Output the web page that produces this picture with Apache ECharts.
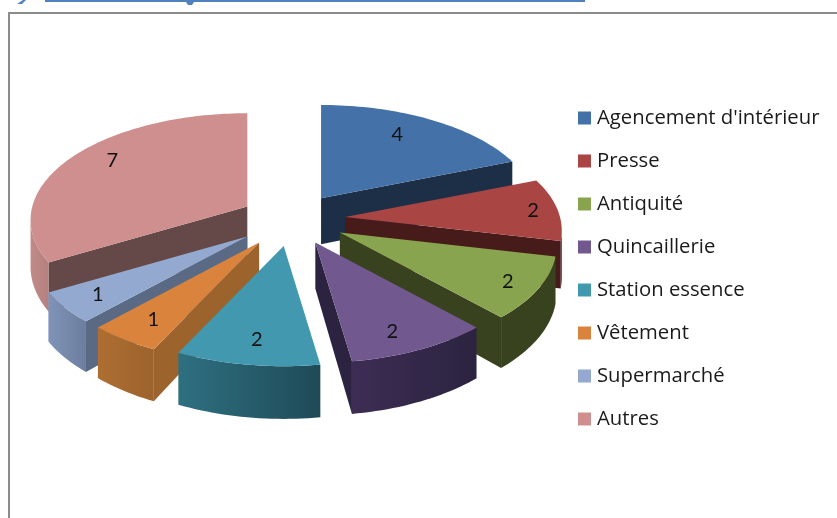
<!DOCTYPE html>
<html>
<head>
<meta charset="utf-8">
<style>html,body{margin:0;padding:0;background:#fff}#c{width:837px;height:518px}</style>
<script src="https://cdn.jsdelivr.net/npm/echarts@6/dist/echarts.min.js"></script>
</head>
<body>
<div id="c"></div>
<script>
const categories = ["Agencement d'intérieur","Presse","Antiquité","Quincaillerie","Station essence","Vêtement","Supermarché","Autres"];
const values = [4,2,2,2,2,1,1,7];
const topColors = ['#4472A8','#A94543','#89A44E','#71588F','#4198AF','#DA833C','#93A9CF','#CF8F8E'];
const radialColors = ['#1C2F47','#471B19','#38421F','#2B2340','#2A6272','#9C632C','#5A6A85','#654848'];
const outerLeft = ['#1C2F47','#471B19','#38421F','#3D2D54','#2E7080','#AE6E32','#8094B8','#C08A88'];
const outerRight = ['#1C2F47','#471B19','#38421F','#2B2340','#1F4A58','#9C632C','#6C7E9E','#B58080'];
const drawOrder = [1,3,5,7,8,6,4,2];
const labelRadius = [0.756,0.885,0.86,0.83,0.81,0.81,0.83,0.81];
const labelTurnDeg = [-3.8,0,1,2.8,-0.6,-0.5,0,4.9];
const explodeFactor = [1,1.03,1.07,1.04,1.08,1.13,1.11,1];

const view = {cx:292, cy:219, R:215, Ry:105, p:0.127, explode:0.24, height:46};
const total = values.reduce((a,b)=>a+b,0);
const starts = [];
values.reduce((acc,v,i)=>{starts[i]=acc;return acc+v;},0);

function cross(a,b){return a[0]*b[1]-a[1]*b[0];}
function sub(a,b){return [a[0]-b[0],a[1]-b[1]];}

function renderSlice(i){
  const a0 = starts[i]/total*2*Math.PI;
  const a1 = (starts[i]+values[i])/total*2*Math.PI;
  const mid = (a0+a1)/2;
  const ex = view.explode*explodeFactor[i];
  const ox = view.cx + ex*view.R*Math.sin(mid);
  const oy = view.cy - ex*view.Ry*Math.cos(mid);
  const scale = v => 1/(1-view.p*v);
  const local = (r,th) => {
    const u=r*Math.sin(th), v=-r*Math.cos(th), s=scale(v);
    return [ox+u*view.R*s, oy+v*view.Ry*s, s];
  };
  const drop = p => [p[0], p[1]+view.height*p[2]];
  const apex = local(0,0);
  const steps = Math.max(8,Math.round((a1-a0)*40));
  const arc = [];
  for(let k=0;k<=steps;k++) arc.push(local(1,a0+(a1-a0)*k/steps));
  const inner = local(0.6,mid);
  const down=[0,1];
  const faces = (p,q) => {
    const e=sub(q,p);
    return cross(e,down)*cross(e,sub(inner,p))<0;
  };
  const children=[];
  const wall=(p,q,fill)=>children.push({type:'polygon',shape:{points:[p.slice(0,2),q.slice(0,2),drop(q),drop(p)]},style:{fill}});
  if(faces(apex,arc[0])) wall(apex,arc[0],radialColors[i]);
  if(faces(apex,arc[steps])) wall(apex,arc[steps],radialColors[i]);
  const vis=[];
  for(let k=0;k<steps;k++){ if(faces(arc[k],arc[k+1])){ if(!vis.length||vis[vis.length-1]!==k) vis.push(k); vis.push(k+1);} }
  if(vis.length>=2){
    const pts=vis.map(k=>arc[k].slice(0,2)).concat(vis.slice().reverse().map(k=>drop(arc[k])));
    children.push({type:'polygon',shape:{points:pts},style:{fill:new echarts.graphic.LinearGradient(0,0,1,0,[
      {offset:0,color:outerLeft[i]},{offset:1,color:outerRight[i]}])}});
  }
  children.push({type:'polygon',shape:{points:[apex.slice(0,2)].concat(arc.map(p=>p.slice(0,2)))},style:{fill:topColors[i]}});
  const lp=local(labelRadius[i],mid+labelTurnDeg[i]*Math.PI/180);
  children.push({type:'text',style:{text:String(values[i]),x:lp[0],y:lp[1],align:'center',verticalAlign:'middle',font:'20px Lato',fill:'#111'}});
  return {type:'group',children};
}

const chart = echarts.init(document.getElementById('c'),null,{renderer:'canvas'});
chart.setOption({
  animation:false,
  backgroundColor:'#ffffff',
  legend:{
    orient:'vertical',left:573,top:102,itemWidth:13,itemHeight:13,itemGap:21,icon:'rect',selectedMode:false,
    data:categories,
    textStyle:{fontFamily:'Open Sans',fontSize:20.3,color:'#1a1a1a',padding:[0,0,0,1],lineHeight:22}
  },
  graphic:[
    {type:'rect',shape:{x:45,y:0,width:540,height:2},style:{fill:'#4F81BD'},silent:true},
    {type:'polygon',shape:{points:[[186,2],[194,2],[192,5],[188,5]]},style:{fill:'#4F81BD'},silent:true},
    {type:'polygon',shape:{points:[[17,4],[23,0],[26,0],[22,4]]},style:{fill:'#4F81BD'},silent:true},
    {type:'rect',shape:{x:8,y:12,width:829,height:2},style:{fill:'#8C8C8C'},silent:true},
    {type:'rect',shape:{x:8,y:12,width:2,height:506},style:{fill:'#8C8C8C'},silent:true}
  ],
  series:categories.map((name,i)=>({
    type:'custom',name,coordinateSystem:'none',z:drawOrder[i]+2,
    itemStyle:{color:topColors[i]},
    data:[values[i]],
    renderItem:()=>renderSlice(i)
  }))
});
</script>
</body>
</html>
